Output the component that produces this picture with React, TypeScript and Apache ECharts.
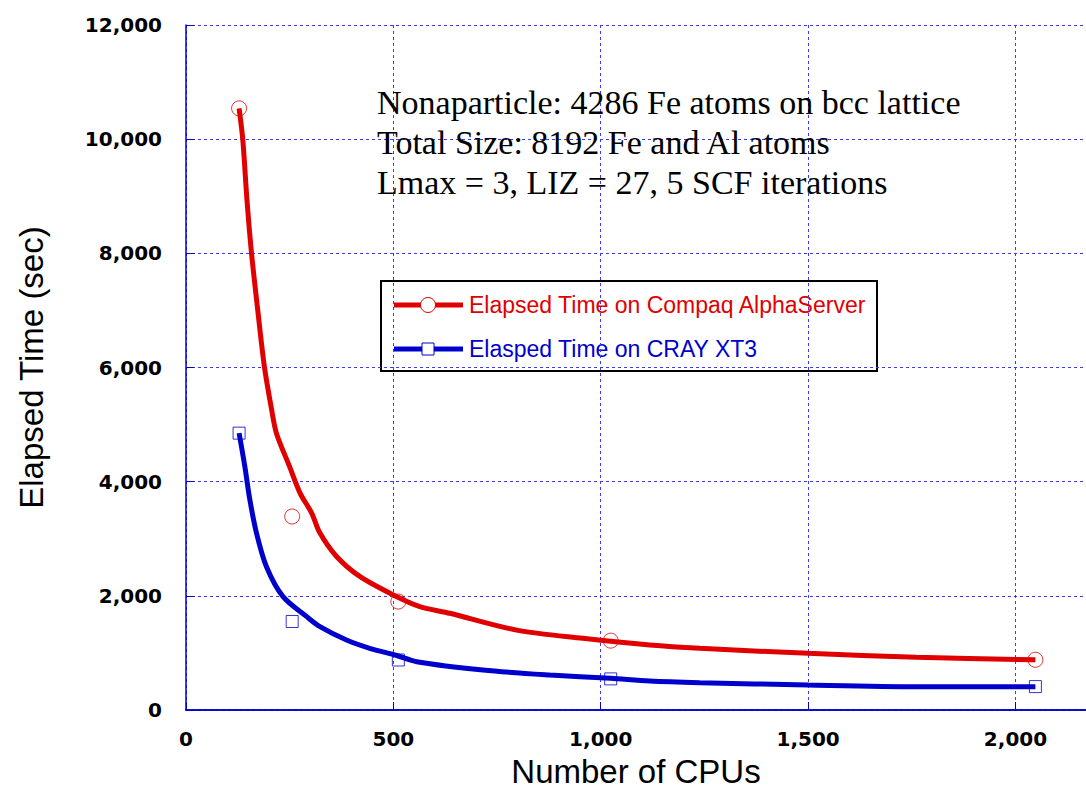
import React, { useEffect, useRef } from "react";
import * as echarts from "echarts";

// Measured data points (Number of CPUs vs elapsed time, sec)
const cpuCounts = [128, 256, 512, 1024, 2048];
const alphaTimes = [10540, 3390, 1900, 1215, 880];
const crayTimes = [4850, 1550, 876, 545, 410];

// Smoothed fit curves: [CPUs, seconds]
const alphaCurve: [number, number][] = [
  [128, 10540], [137, 9985], [147, 8935], [158, 8000], [173, 7005], [189, 6015],
  [206, 5280], [218, 4850], [250, 4260], [275, 3800], [303, 3450], [323, 3100],
  [363, 2690], [419, 2340], [500, 2015], [564, 1810], [636, 1694], [797, 1400],
  [957, 1256], [1118, 1139], [1239, 1081], [1500, 993], [1761, 923], [2048, 880],
];
const crayCurve: [number, number][] = [
  [128, 4850], [142, 4260], [154, 3680], [170, 3100], [194, 2510], [234, 1985],
  [291, 1635], [323, 1460], [387, 1226], [443, 1081], [508, 955], [556, 846],
  [716, 700], [877, 613], [1024, 555], [1118, 508], [1239, 479], [1500, 438],
  [1761, 409], [2048, 408],
];

const annotationLines = [
  "Nonaparticle: 4286 Fe atoms on bcc lattice",
  "Total Size: 8192 Fe and Al atoms",
  "Lmax = 3, LIZ = 27, 5 SCF iterations",
];
const legendNames = ["Elapsed Time on Compaq AlphaServer", "Elasped Time on CRAY XT3"];

const RED = "#e00000";
const BLUE = "#0000cc";
const GRIDBLUE = "#3a3aff";
const SANS = '"Liberation Sans", Arial, sans-serif';
const BOLDSANS = '"DejaVu Sans", sans-serif';
const SERIF = '"Liberation Serif", "Times New Roman", serif';

export default function App() {
  const ref = useRef<HTMLDivElement>(null);
  useEffect(() => {
    if (!ref.current) return;
    const chart = echarts.init(ref.current, null, { renderer: "svg" });
    const fmt = (v: number) => v.toLocaleString("en-US");
    chart.setOption({
      animation: false,
      backgroundColor: "#fff",
      grid: { left: 186, top: 25, right: 0, bottom: 92, containLabel: false },
      xAxis: [
        {
          type: "value",
          min: 0,
          max: 2170,
          interval: 500,
          name: "Number of CPUs",
          nameLocation: "middle",
          nameGap: 45,
          nameTextStyle: { fontFamily: SANS, fontSize: 33, color: "#000" },
          axisLine: { show: true, onZero: false, lineStyle: { color: BLUE, width: 1.5 } },
          axisTick: { show: true, inside: true, length: 8, lineStyle: { color: BLUE } },
          axisLabel: {
            showMaxLabel: false,
            margin: 19,
            fontFamily: BOLDSANS,
            fontWeight: "bold",
            fontSize: 20,
            color: "#000",
            formatter: fmt,
          },
          splitLine: {
            show: true,
            showMaxLine: false,
            lineStyle: { color: GRIDBLUE, type: [3, 3], width: 1 },
          },
        },
        {
          type: "value",
          position: "top",
          min: 0,
          max: 2170,
          interval: 500,
          axisLine: { show: true, lineStyle: { color: BLUE, width: 1.5 } },
          axisTick: { show: false },
          axisLabel: { show: false },
          splitLine: { show: false },
        },
      ],
      yAxis: {
        type: "value",
        min: 0,
        max: 12000,
        interval: 2000,
        name: "Elapsed Time (sec)",
        nameLocation: "middle",
        nameRotate: 90,
        nameGap: 138,
        nameTextStyle: { fontFamily: SANS, fontSize: 33, color: "#000" },
        axisLine: { show: true, lineStyle: { color: BLUE, width: 1.5 } },
        axisTick: { show: true, inside: true, length: 8, lineStyle: { color: BLUE } },
        axisLabel: {
          margin: 24,
          fontFamily: BOLDSANS,
          fontWeight: "bold",
          fontSize: 20,
          color: "#000",
          formatter: fmt,
        },
        splitLine: { show: true, lineStyle: { color: GRIDBLUE, type: [3, 3], width: 1 } },
      },
      series: [
        {
          name: legendNames[0] + " fit",
          type: "line",
          data: alphaCurve,
          showSymbol: false,
          smooth: 0.3,
          lineStyle: { color: RED, width: 5 },
          z: 2,
        },
        {
          name: legendNames[1] + " fit",
          type: "line",
          data: crayCurve,
          showSymbol: false,
          smooth: 0.3,
          lineStyle: { color: BLUE, width: 5 },
          z: 2,
        },
        {
          name: legendNames[0],
          type: "scatter",
          data: cpuCounts.map((c, i) => [c, alphaTimes[i]]),
          symbol: "circle",
          symbolSize: 15,
          itemStyle: { color: "rgba(0,0,0,0)", borderColor: RED, borderWidth: 1 },
          z: 3,
        },
        {
          name: legendNames[1],
          type: "scatter",
          data: cpuCounts.map((c, i) => [c, crayTimes[i]]),
          symbol: "rect",
          symbolSize: 12,
          itemStyle: { color: "rgba(0,0,0,0)", borderColor: BLUE, borderWidth: 1 },
          z: 3,
        },
      ],
      graphic: [
        {
          type: "text",
          left: 377,
          top: 82,
          z: 10,
          style: {
            text: annotationLines.join("\n"),
            fontFamily: SERIF,
            fontSize: 34,
            lineHeight: 40,
            fill: "#000",
          },
        },
        {
          type: "group",
          left: 380,
          top: 280,
          z: 10,
          children: [
            {
              type: "rect",
              shape: { x: 0, y: 0, width: 496, height: 90 },
              style: { fill: "#fff", stroke: "#000", lineWidth: 2 },
            },
            {
              type: "line",
              shape: { x1: 13, y1: 24, x2: 82, y2: 24 },
              style: { stroke: RED, lineWidth: 5 },
            },
            {
              type: "circle",
              shape: { cx: 47, cy: 24, r: 7.5 },
              style: { fill: "#fff", stroke: RED, lineWidth: 1 },
            },
            {
              type: "text",
              x: 88,
              y: 24,
              style: {
                text: legendNames[0],
                fontFamily: SANS,
                fontSize: 23,
                fill: RED,
                verticalAlign: "middle",
              },
            },
            {
              type: "line",
              shape: { x1: 13, y1: 68, x2: 82, y2: 68 },
              style: { stroke: BLUE, lineWidth: 5 },
            },
            {
              type: "rect",
              shape: { x: 41, y: 62, width: 12, height: 12 },
              style: { fill: "#fff", stroke: BLUE, lineWidth: 1 },
            },
            {
              type: "text",
              x: 88,
              y: 68,
              style: {
                text: legendNames[1],
                fontFamily: SANS,
                fontSize: 23,
                fill: BLUE,
                verticalAlign: "middle",
              },
            },
          ],
        },
      ],
    });
    return () => chart.dispose();
  }, []);
  return (
    <div
      ref={ref}
      style={{ position: "absolute", left: 0, top: 0, width: 1086, height: 802 }}
    />
  );
}
